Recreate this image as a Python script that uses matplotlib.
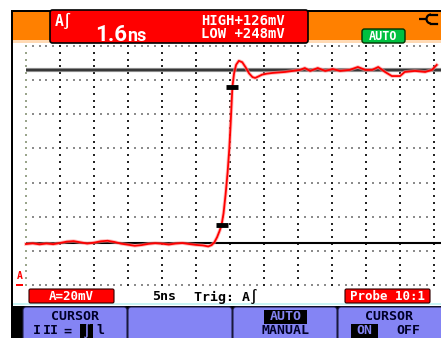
import numpy as np
import matplotlib
matplotlib.use("Agg")
import matplotlib.pyplot as plt
from matplotlib.patches import Rectangle, FancyBboxPatch, Arc

W, H = 441, 338

# Scope scale settings
time_per_div_ns = 5
mv_per_div = 20
n_hdiv = 12
n_vdiv = 7

# Cursor readings (mV)
high_mv = 126.0
low_mv = 24.8

# Captured trace: time in ns from the left screen edge, amplitude in mV
t_ns = [0.0, 1.0, 2.0, 3.0, 4.0, 5.0, 6.0, 7.0, 8.0, 9.0, 10.0, 11.0, 12.0,
        13.0, 14.0, 15.0, 16.0, 17.0, 18.0, 19.0, 20.0, 21.0, 22.0, 23.0,
        24.0, 25.0, 26.0, 26.8, 27.3, 27.7, 28.1, 28.45, 28.75, 29.05,
        29.35, 29.65, 29.9, 30.1, 30.35, 30.6, 30.9, 31.3, 31.8, 32.3, 32.8,
        33.3, 33.7, 34.2, 34.7, 35.4, 36.2, 38.1, 40.3, 41.0, 41.8, 42.9,
        44.0, 45.1, 46.2, 47.6, 48.8, 49.9, 50.9, 51.8, 52.8, 53.8, 55.0,
        55.7, 57.2, 58.7, 59.7, 60.4]
v_mv = [24.0, 24.4, 23.8, 24.3, 23.9, 24.6, 25.4, 25.7, 25.0, 24.3, 24.8,
        25.6, 25.9, 25.2, 24.2, 23.6, 23.0, 23.4, 24.1, 24.5, 24.2, 23.7,
        24.3, 24.6, 24.0, 23.5, 23.2, 22.6, 23.4, 25.0, 28.0, 31.5, 34.9,
        42.0, 53.0, 66.0, 80.0, 95.0, 116.0, 124.0, 129.0, 131.3, 130.5,
        127.5, 124.0, 121.8, 121.3, 122.2, 123.2, 123.8, 124.2, 124.8, 126.0,
        127.1, 125.4, 127.1, 125.4, 126.5, 125.4, 126.0, 127.7, 126.0, 126.0,
        127.7, 124.8, 122.4, 122.4, 124.8, 125.4, 124.8, 126.0, 128.9]

# Header / status texts
hdr_channel = "A\u222b"
hdr_rise_num = "1.6"
hdr_rise_unit = "ns"
hdr_high = "HIGH+126mV"
hdr_low = "LOW +248mV"
status_range = "A=20mV"
status_time = "5ns"
status_trig = "Trig: A\u222b"
status_probe = "Probe 10:1"

ORANGE = "#ff8000"
RED = "#ff0000"
BTN = "#8484f4"
NAVY = "#000028"
MONO = "DejaVu Sans Mono"

fig = plt.figure(figsize=(W / 100, H / 100), dpi=100)
fig.patch.set_facecolor("white")

# ---------- instrument frame (pixel coordinates) ----------
ui = fig.add_axes([0, 0, 1, 1])
ui.set_xlim(0, W)
ui.set_ylim(H, 0)
ui.axis("off")

def rect(x0, y0, x1, y1, fc, ec="none", lw=0, z=1):
    ui.add_patch(Rectangle((x0, y0), x1 - x0, y1 - y0, facecolor=fc,
                           edgecolor=ec, linewidth=lw, zorder=z))

def rbox(x0, y0, x1, y1, fc, ec, lw=1.0, r=2.0, z=3):
    ui.add_patch(FancyBboxPatch((x0 + r, y0 + r), x1 - x0 - 2 * r,
                                y1 - y0 - 2 * r,
                                boxstyle=f"round,pad={r}", facecolor=fc,
                                edgecolor=ec, linewidth=lw, zorder=z))

# screen background and black bezel
rect(11, 10, W, H, "black", z=0)
rect(13, 12, W, 43, ORANGE, z=1)
rect(13, 40, W, 43, "#ffd9b3", z=1)
rect(13, 43, W, 306, "white", z=1)
rect(13, 303, W, 305, "#c8f4f4", z=1)

# header: measurement box
rbox(50, 10, 308, 43, RED, "black", lw=1.2, r=2.5, z=3)
ui.text(55, 20.5, hdr_channel, color="white", fontsize=10.5,
        fontweight="bold", family=MONO, va="center", ha="left", zorder=5)
ui.text(95, 41, hdr_rise_num, color="white", fontsize=16, fontweight="bold",
        family="Roboto", va="baseline", ha="left", zorder=5)
ui.text(127, 41, hdr_rise_unit, color="white", fontsize=13,
        fontweight="bold", family="Roboto", va="baseline", ha="left",
        zorder=5)
ui.text(243, 21, hdr_high, color="white", fontsize=10, fontweight="bold",
        family=MONO, va="center", ha="center", zorder=5)
ui.text(243, 33.5, hdr_low, color="white", fontsize=10, fontweight="bold",
        family=MONO, va="center", ha="center", zorder=5)

# AUTO badge
rbox(362, 29, 405, 43, "#00c040", "#003000", lw=1.0, r=2.5, z=3)
ui.text(383.5, 36.3, "AUTO", color="white", fontsize=8.5, fontweight="bold",
        family=MONO, va="center", ha="center", zorder=5)

# power plug icon
ui.plot([419, 426], [19, 19], color="black", lw=1.6, zorder=5,
        solid_capstyle="butt")
ui.add_patch(Arc((431, 19), 9, 9, theta1=90, theta2=270, color="black",
                 lw=1.6, zorder=5))
ui.plot([431, 437], [14.5, 14.5], color="black", lw=1.6, zorder=5)
ui.plot([431, 437], [23.5, 23.5], color="black", lw=1.6, zorder=5)

# ground reference marker
ui.text(19.5, 276, "A", color=RED, fontsize=7, fontweight="bold",
        family=MONO, va="center", ha="center", zorder=5)
rect(16, 283.5, 23, 286, RED, z=5)

# status row
rbox(29, 289, 114, 303, RED, "#300000", lw=0.8, r=1.5, z=3)
ui.text(71.5, 296.3, status_range, color="white", fontsize=9,
        fontweight="bold", family=MONO, va="center", ha="center", zorder=5)
ui.text(152, 297, status_time, color="black", fontsize=9.5, fontweight="bold",
        family=MONO, va="center", ha="left", zorder=5)
ui.text(194, 297, status_trig, color="black", fontsize=9.5,
        fontweight="bold", family=MONO, va="center", ha="left", zorder=5)
rbox(345, 289, 430, 303, RED, "#300000", lw=0.8, r=1.5, z=3)
ui.text(387.5, 296.3, status_probe, color="white", fontsize=9,
        fontweight="bold", family=MONO, va="center", ha="center", zorder=5)

# soft-key buttons
rect(11, 306, W, H, "black", z=2)
for x0, x1 in [(23, 127), (128, 232), (233, 337), (338, 444)]:
    rbox(x0, 307, x1, H + 6, BTN, "#20204a", lw=0.8, r=3, z=3)

def btxt(x, y, s, color=NAVY, size=9.5):
    ui.text(x, y, s, color=color, fontsize=size, fontweight="bold",
            family=MONO, va="center", ha="center", zorder=6)

btxt(75, 317, "CURSOR")
btxt(37, 331, "I")
btxt(51, 331, "II")
btxt(67, 331, "=")
rect(80, 324, 93, 338, "black", z=5)
btxt(86.5, 331, "\u222b", color=BTN)
btxt(100, 331, "l")
rect(264, 310, 307, 323.5, "black", z=5)
btxt(285.5, 317, "AUTO", color=BTN)
btxt(285.5, 331, "MANUAL")
btxt(389.5, 317, "CURSOR")
rect(351, 324, 378, 338, "black", z=5)
btxt(364.5, 331, "ON", color=BTN)
btxt(408, 331, "OFF")

# ---------- scope display (time / voltage coordinates) ----------
px_per_div_x = 34.0
x_left, x_right, y_top, y_bot = 26, 441, 46, 285
ax = fig.add_axes([x_left / W, 1 - y_bot / H, (x_right - x_left) / W,
                   (y_bot - y_top) / H])
ax.set_xlim(0, (x_right - x_left) / px_per_div_x * time_per_div_ns)
ax.set_ylim(0, n_vdiv * mv_per_div)
ax.set_facecolor("none")
ax.axis("off")

t_end = n_hdiv * time_per_div_ns
v_end = n_vdiv * mv_per_div

# dotted graticule
for lvl in np.arange(0, v_end + 0.1, mv_per_div):
    tt = np.arange(0, t_end + 0.01, time_per_div_ns / 5)
    ax.plot(tt, np.full_like(tt, lvl), ls="none", marker="s", ms=1.5,
            mew=0, color="#8c8c8c", clip_on=False, zorder=2)
for k, tc in enumerate(np.arange(0, t_end + 0.01, time_per_div_ns)):
    vv = np.arange(0, v_end + 0.01, mv_per_div / 5)
    ax.plot(np.full_like(vv, tc), vv, ls="none", marker="s", ms=1.5, mew=0,
            color="#9aa58c" if k == 0 else "#262626", clip_on=False, zorder=2)

# HIGH / LOW cursors
xr = ax.get_xlim()
ax.plot(xr, [high_mv, high_mv], color="#8a8a8a", lw=3.0, zorder=3,
        solid_capstyle="butt")
ax.plot(xr, [high_mv, high_mv], color="#202020", lw=1.1, zorder=3,
        solid_capstyle="butt")
ax.plot(xr, [low_mv, low_mv], color="black", lw=1.5, zorder=3,
        solid_capstyle="butt")

# waveform
ax.plot(t_ns, v_mv, color="#ff9090", lw=2.6, alpha=0.6, zorder=4,
        clip_on=False, solid_joinstyle="round")
ax.plot(t_ns, v_mv, color=RED, lw=1.3, zorder=5, clip_on=False,
        solid_joinstyle="round")

# 10 % / 90 % rise-time markers on the leading edge
t_arr = np.array(t_ns)
v_arr = np.array(v_mv)
edge = (t_arr >= 27.3) & (t_arr <= 31.3)
for frac in (0.1, 0.9):
    lvl = low_mv + frac * (high_mv - low_mv)
    tc = np.interp(lvl, v_arr[edge], t_arr[edge])
    ax.plot([tc], [lvl], marker="_", ms=8, mew=3.5, color="black", zorder=6)

fig.savefig("out.png", dpi=100)
